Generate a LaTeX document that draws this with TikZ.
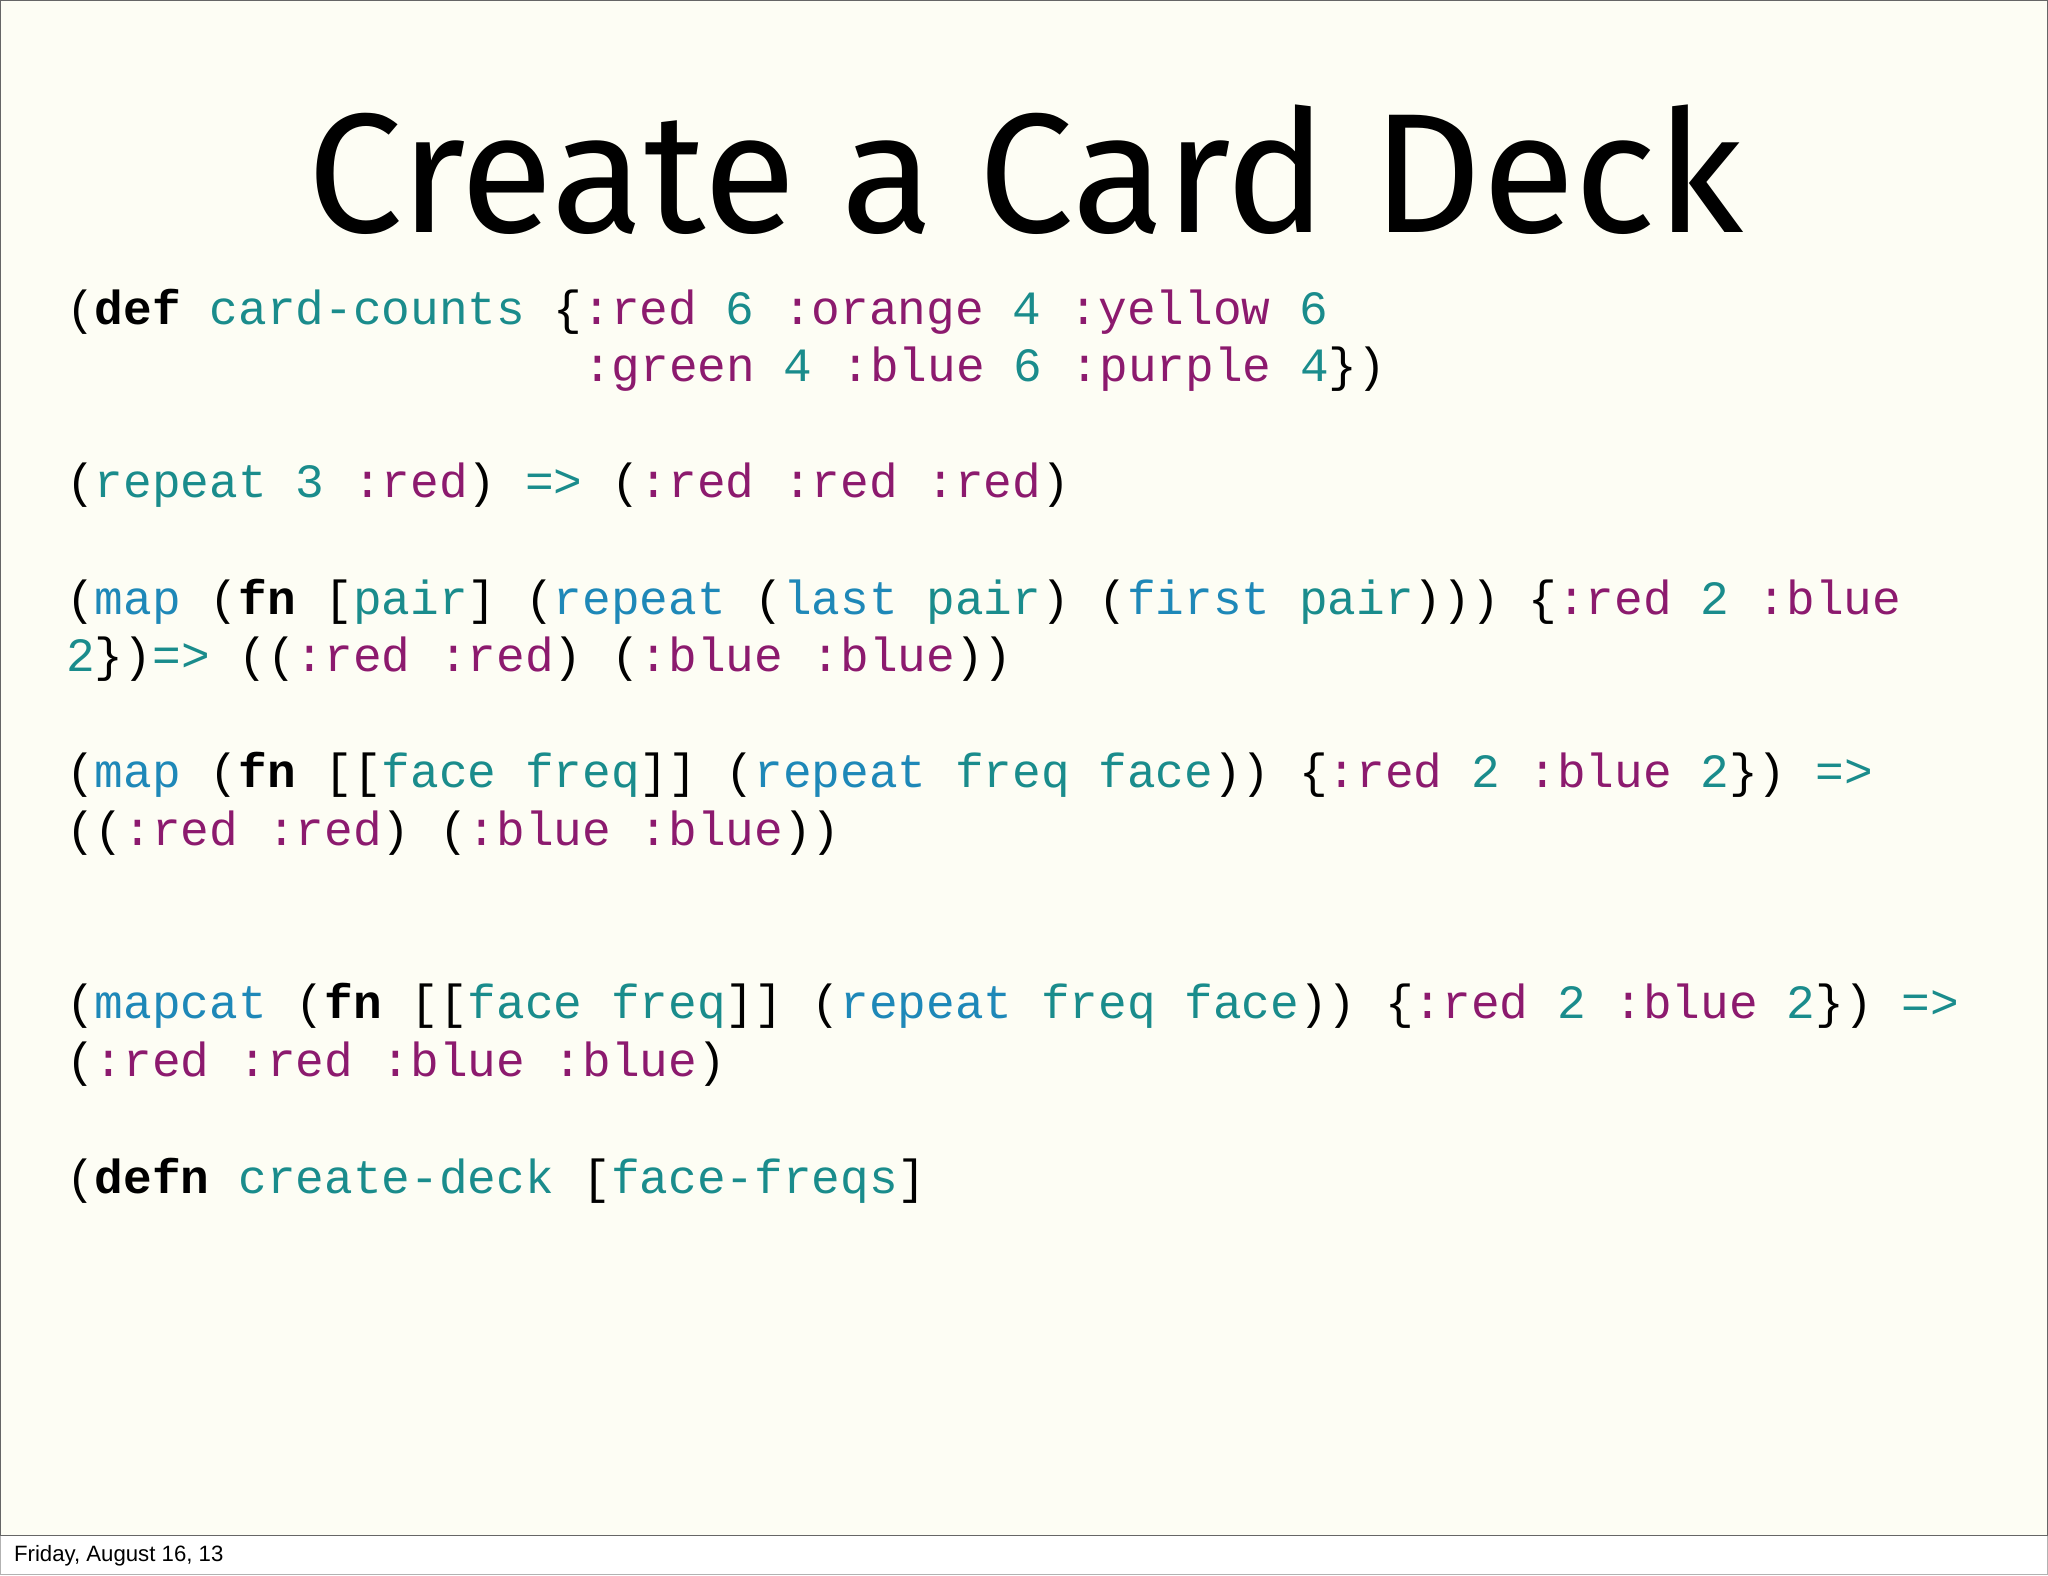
\documentclass[tikz,border=0pt]{standalone}
\usepackage{fontspec}
\setmainfont{Liberation Sans}
\setmonofont{Liberation Mono}
\newfontfamily\titlefont{Fira Sans}
\definecolor{cteal}{HTML}{1A8C8C}
\definecolor{cblue}{HTML}{1E88B8}
\definecolor{cpurp}{HTML}{8C1A6E}
\definecolor{slidebg}{HTML}{FDFDF4}
\newcommand\Kw[1]{\textcolor{cpurp}{#1}}
\newcommand\Tl[1]{\textcolor{cteal}{#1}}
\newcommand\Bl[1]{\textcolor{cblue}{#1}}
\newcommand\Bd[1]{\textbf{#1}}
\tikzset{code/.style={anchor=base west,inner sep=0pt,font=\ttfamily\fontsize{18.3pt}{20pt}\selectfont}}
\begin{document}
\begin{tikzpicture}[x=0.5pt,y=-0.5pt]
\draw[gray!60,fill=white] (0,0) rectangle (1568,1206);
\draw[gray!80!black,fill=slidebg] (0,0) rectangle (1568,1176);
\node[anchor=base,inner sep=0pt] (title) at (785,178) {\resizebox{550pt}{!}{\titlefont\fontsize{72pt}{80pt}\selectfont Create a Card Deck}};
\node[code] (l1) at (50,248) {(\Bd{def} \Tl{card-counts} \{\Kw{:red} \Tl{6} \Kw{:orange} \Tl{4} \Kw{:yellow} \Tl{6}};
\node[code] (l2) at (446,292) {\Kw{:green} \Tl{4} \Kw{:blue} \Tl{6} \Kw{:purple} \Tl{4}\})};
\node[code] (l3) at (50,381) {(\Tl{repeat} \Tl{3} \Kw{:red}) \Tl{=>} (\Kw{:red} \Kw{:red} \Kw{:red})};
\node[code] (l4) at (50,470) {(\Bl{map} (\Bd{fn} [\Tl{pair}] (\Bl{repeat} (\Bl{last} \Tl{pair}) (\Bl{first} \Tl{pair}))) \{\Kw{:red} \Tl{2} \Kw{:blue}};
\node[code] (l5) at (50,514) {\Tl{2}\})\Tl{=>} ((\Kw{:red} \Kw{:red}) (\Kw{:blue} \Kw{:blue}))};
\node[code] (l6) at (50,603) {(\Bl{map} (\Bd{fn} [[\Tl{face} \Tl{freq}]] (\Bl{repeat} \Tl{freq} \Tl{face})) \{\Kw{:red} \Tl{2} \Kw{:blue} \Tl{2}\}) \Tl{=>}};
\node[code] (l7) at (50,647) {((\Kw{:red} \Kw{:red}) (\Kw{:blue} \Kw{:blue}))};
\node[code] (l8) at (50,780) {(\Bl{mapcat} (\Bd{fn} [[\Tl{face} \Tl{freq}]] (\Bl{repeat} \Tl{freq} \Tl{face})) \{\Kw{:red} \Tl{2} \Kw{:blue} \Tl{2}\}) \Tl{=>}};
\node[code] (l9) at (50,824) {(\Kw{:red} \Kw{:red} \Kw{:blue} \Kw{:blue})};
\node[code] (l10) at (50,914) {(\Bd{defn} \Tl{create-deck} [\Tl{face-freqs}]};
\node[anchor=base west,inner sep=0pt,font=\fontsize{8.5pt}{10pt}\selectfont] (foot) at (10,1196) {Friday, August 16, 13};
\end{tikzpicture}
\end{document}
